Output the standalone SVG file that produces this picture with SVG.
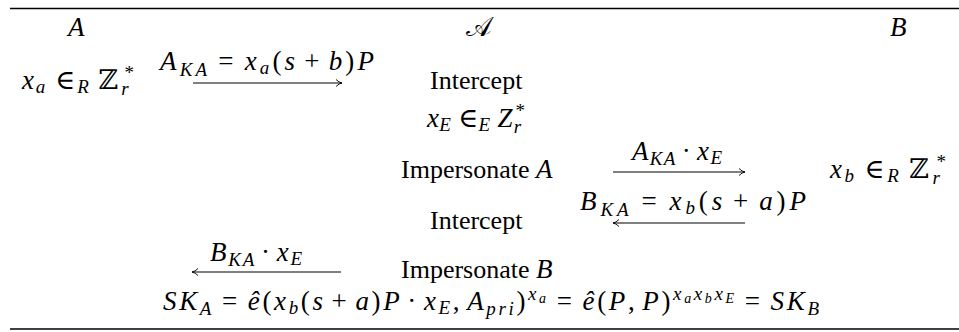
<svg xmlns="http://www.w3.org/2000/svg" width="959" height="332" viewBox="0 0 959 332">
<style>
text{font-family:"Liberation Serif","Times New Roman","DejaVu Serif",serif;font-size:26px;fill:#000}
.m{font-size:27px}
.i{font-style:italic}
.s{font-size:19px}
.ss{font-size:14px}
.rule{stroke:#000;stroke-width:1.6}
.arr{stroke:#000;stroke-width:1;fill:none}
</style>
<defs>
<marker id="head" markerWidth="10" markerHeight="10" refX="7" refY="4" orient="auto" markerUnits="userSpaceOnUse">
<path d="M1,0.5 Q4,3.5 7,4 Q4,4.5 1,7.5" fill="none" stroke="#000" stroke-width="0.9"/>
</marker>
</defs>
<g id="rules">
<line class="rule" x1="10" y1="8.5" x2="959" y2="8.5"/>
<line class="rule" x1="10" y1="329" x2="959" y2="329"/>
</g>
<g id="hdr-A"><text class="m i" x="68" y="36">A</text></g>
<g id="hdr-Adv"><text class="m" x="466" y="36" style="font-family:'DejaVu Serif',serif">𝒜</text></g>
<g id="hdr-B"><text class="m i" x="890" y="36">B</text></g>
<g id="a-choose"><text class="m" x="22" y="89" textLength="112" lengthAdjust="spacing"><tspan class="i">x</tspan><tspan class="s i" dy="4">a</tspan><tspan dy="-4" dx="8">∈</tspan><tspan class="s i" dy="4">R</tspan><tspan dy="-4" dx="8">ℤ</tspan><tspan class="s i" dy="6" dx="1">r</tspan><tspan class="s" dx="-6" dy="-16">*</tspan></text></g>
<g id="msg1"><text class="m" x="160" y="70" textLength="214" lengthAdjust="spacing"><tspan class="i">A</tspan><tspan class="s i" dy="6">KA</tspan><tspan dy="-6" dx="8">=</tspan><tspan class="i" dx="8">x</tspan><tspan class="s i" dy="4">a</tspan><tspan dy="-4">(</tspan><tspan class="i">s</tspan><tspan dx="6">+</tspan><tspan class="i" dx="6">b</tspan><tspan>)</tspan><tspan class="i">P</tspan></text></g>
<g id="e-intercept1"><text x="430" y="89">Intercept</text></g>
<g id="e-choose"><text class="m" x="427" y="127" textLength="98" lengthAdjust="spacing"><tspan class="i">x</tspan><tspan class="s i" dy="4">E</tspan><tspan dy="-4" dx="7">∈</tspan><tspan class="s i" dy="4">E</tspan><tspan class="i" dy="-4" dx="7">Z</tspan><tspan class="s i" dy="6" dx="1">r</tspan><tspan class="s" dx="-6" dy="-16">*</tspan></text></g>
<g id="e-imp-a"><text x="401" y="178">Impersonate <tspan class="m i">A</tspan></text></g>
<g id="msg2"><text class="m" x="632" y="160" textLength="90" lengthAdjust="spacing"><tspan class="i">A</tspan><tspan class="s i" dy="5">KA</tspan><tspan dy="-5" dx="5">·</tspan><tspan class="i" dx="5">x</tspan><tspan class="s i" dy="4">E</tspan></text></g>
<g id="b-choose"><text class="m" x="830" y="178" textLength="116" lengthAdjust="spacing"><tspan class="i">x</tspan><tspan class="s i" dy="4">b</tspan><tspan dy="-4" dx="8">∈</tspan><tspan class="s i" dy="4">R</tspan><tspan dy="-4" dx="8">ℤ</tspan><tspan class="s i" dy="6" dx="1">r</tspan><tspan class="s" dx="-6" dy="-16">*</tspan></text></g>
<g id="msg3"><text class="m" x="580" y="210" textLength="226" lengthAdjust="spacing"><tspan class="i">B</tspan><tspan class="s i" dy="6">KA</tspan><tspan dy="-6" dx="9">=</tspan><tspan class="i" dx="9">x</tspan><tspan class="s i" dy="4">b</tspan><tspan dy="-4">(</tspan><tspan class="i">s</tspan><tspan dx="7">+</tspan><tspan class="i" dx="7">a</tspan><tspan>)</tspan><tspan class="i">P</tspan></text></g>
<g id="e-intercept2"><text x="430" y="229">Intercept</text></g>
<g id="msg4"><text class="m" x="210" y="261" textLength="92" lengthAdjust="spacing"><tspan class="i">B</tspan><tspan class="s i" dy="5">KA</tspan><tspan dy="-5" dx="5">·</tspan><tspan class="i" dx="5">x</tspan><tspan class="s i" dy="4">E</tspan></text></g>
<g id="e-imp-b"><text x="401" y="278">Impersonate <tspan class="m i">B</tspan></text></g>
<g id="session-key"><text class="m" x="163" y="310" textLength="656" lengthAdjust="spacing"><tspan class="i">SK</tspan><tspan class="s i" dy="5">A</tspan><tspan dy="-5" dx="8">=</tspan><tspan class="i" dx="8">ê</tspan><tspan>(</tspan><tspan class="i">x</tspan><tspan class="s i" dy="4">b</tspan><tspan dy="-4">(</tspan><tspan class="i">s</tspan><tspan dx="6">+</tspan><tspan class="i" dx="6">a</tspan><tspan>)</tspan><tspan class="i">P</tspan><tspan dx="5">·</tspan><tspan class="i" dx="5">x</tspan><tspan class="s i" dy="4">E</tspan><tspan dy="-4">,</tspan><tspan class="i" dx="5">A</tspan><tspan class="s i" dy="5">pri</tspan><tspan dy="-5">)</tspan><tspan class="s i" dy="-10">x</tspan><tspan class="ss i" dy="3">a</tspan><tspan dy="7" dx="8">=</tspan><tspan class="i" dx="8">ê</tspan><tspan>(</tspan><tspan class="i">P</tspan><tspan>,</tspan><tspan class="i" dx="5">P</tspan><tspan>)</tspan><tspan class="s i" dy="-10">x</tspan><tspan class="ss i" dy="3">a</tspan><tspan class="s i" dy="-3">x</tspan><tspan class="ss i" dy="3">b</tspan><tspan class="s i" dy="-3">x</tspan><tspan class="ss i" dy="3">E</tspan><tspan dy="7" dx="8">=</tspan><tspan class="i" dx="8">SK</tspan><tspan class="s i" dy="5">B</tspan></text></g>
<g id="connectors">
<line class="arr" x1="193" y1="83" x2="342" y2="83" marker-end="url(#head)"/>
<line class="arr" x1="613" y1="172" x2="745" y2="172" marker-end="url(#head)"/>
<line class="arr" x1="745" y1="223" x2="613" y2="223" marker-end="url(#head)"/>
<line class="arr" x1="341" y1="272" x2="192" y2="272" marker-end="url(#head)"/>
</g>
</svg>
